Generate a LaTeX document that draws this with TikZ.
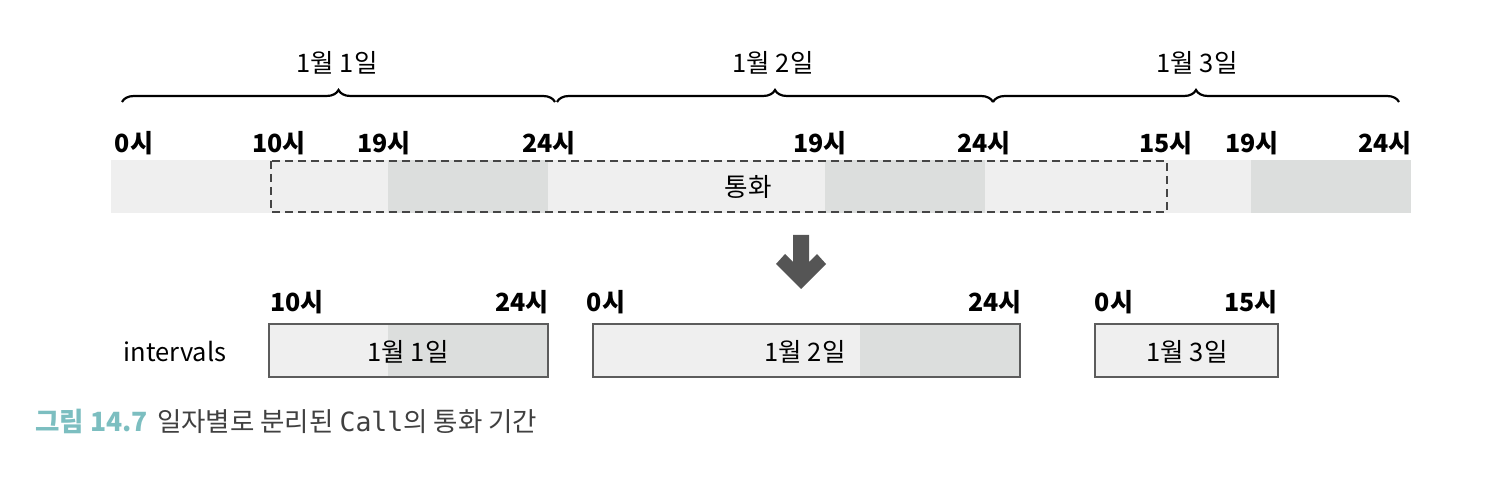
\documentclass[tikz,border=0pt]{standalone}
\usepackage{fontspec}
\setmainfont{Noto Sans CJK KR}
\newfontfamily\codefont{DejaVu Sans Mono}
\usetikzlibrary{decorations.pathreplacing}

\definecolor{barlight}{HTML}{EFEFEF}
\definecolor{bardark}{HTML}{DCDEDD}
\definecolor{edgegray}{HTML}{5C5C5C}
\definecolor{dashgray}{HTML}{454545}
\definecolor{arrowgray}{HTML}{555555}
\definecolor{capteal}{HTML}{7CBEC0}
\definecolor{captext}{HTML}{404040}

\tikzset{
  hourlbl/.style={inner sep=0pt, font=\fontsize{25}{30}\selectfont\bfseries},
  daylbl/.style={inner sep=0pt, font=\fontsize{25.5}{30}\selectfont},
  dayspan/.style={decorate, decoration={brace, amplitude=12pt}, line width=2.2pt},
  callbox/.style={draw=dashgray, dash pattern=on 8pt off 5pt, line width=2.4pt},
  splitbox/.style={draw=edgegray, line width=2.6pt},
}

\begin{document}
\begin{tikzpicture}[x=1pt, y=-1pt, line join=miter]

  %% ════ 상단 막대 ════
  \fill[barlight] (111,160) rectangle (1411,213);
  \fill[bardark] (388,160) rectangle (548,213);
  \fill[bardark] (825,160) rectangle (985,213);
  \fill[bardark] (1251,160) rectangle (1411,213);
  \draw[callbox] (271,161) rectangle (1167,212);
  \node[daylbl] (call) at (748,187) {통화};

  %% ════ 일자 중괄호 ════
  \draw[dayspan] (122,102) -- (555,102);
  \draw[dayspan] (557,102) -- (993,102);
  \draw[dayspan] (993,102) -- (1399,102);
  \node[daylbl] (day1) at (337,63) {1월 1일};
  \node[daylbl] (day2) at (773,63) {1월 2일};
  \node[daylbl] (day3) at (1197,63) {1월 3일};

  %% ════ 상단 시각 ════
  \node[hourlbl] (t0)  at (134,143)  {0시};
  \node[hourlbl] (t10) at (279,143)  {10시};
  \node[hourlbl] (t19a) at (384,143) {19시};
  \node[hourlbl] (t24a) at (549,143) {24시};
  \node[hourlbl] (t19b) at (820,143) {19시};
  \node[hourlbl] (t24b) at (984,143) {24시};
  \node[hourlbl] (t15) at (1166,143) {15시};
  \node[hourlbl] (t19c) at (1252,143) {19시};
  \node[hourlbl] (t24c) at (1385,143) {24시};

  %% ════ 아래 화살표 ════
  \fill[arrowgray] (793,235) -- (809,235) -- (809,262) -- (817,254) -- (826,264)
    -- (801,289) -- (776,264) -- (785,254) -- (793,262) -- cycle;

  %% ════ 분리된 intervals ════
  \node[daylbl] (intervals) at (175,352) {intervals};

  \fill[barlight] (269,324) rectangle (548,377);
  \fill[bardark] (388,324) rectangle (548,377);
  \draw[splitbox] (269,324) rectangle (548,377);
  \node[daylbl] (part1) at (408,352) {1월 1일};

  \fill[barlight] (593,324) rectangle (1020,377);
  \fill[bardark] (860,324) rectangle (1020,377);
  \draw[splitbox] (593,324) rectangle (1020,377);
  \node[daylbl] (part2) at (805,352) {1월 2일};

  \fill[barlight] (1095,324) rectangle (1278,377);
  \draw[splitbox] (1095,324) rectangle (1278,377);
  \node[daylbl] (part3) at (1187,352) {1월 3일};

  \node[hourlbl] (p1s) at (297,302)  {10시};
  \node[hourlbl] (p1e) at (522,302)  {24시};
  \node[hourlbl] (p2s) at (606,302)  {0시};
  \node[hourlbl] (p2e) at (995,302)  {24시};
  \node[hourlbl] (p3s) at (1114,302) {0시};
  \node[hourlbl] (p3e) at (1251,302) {15시};

  %% ════ 캡션 ════
  \node[anchor=west, inner sep=0pt, font=\fontsize{26.5}{31}\selectfont] (caption) at (35,421)
    {{\color{capteal}\bfseries 그림 14.7}\hspace{0.35em}{\color{captext}일자별로 분리된 {\codefont Call}의 통화 기간}};

  % 캔버스 고정
  \pgfresetboundingbox
  \path[use as bounding box] (0,0) rectangle (1492,478);
\end{tikzpicture}
\end{document}
